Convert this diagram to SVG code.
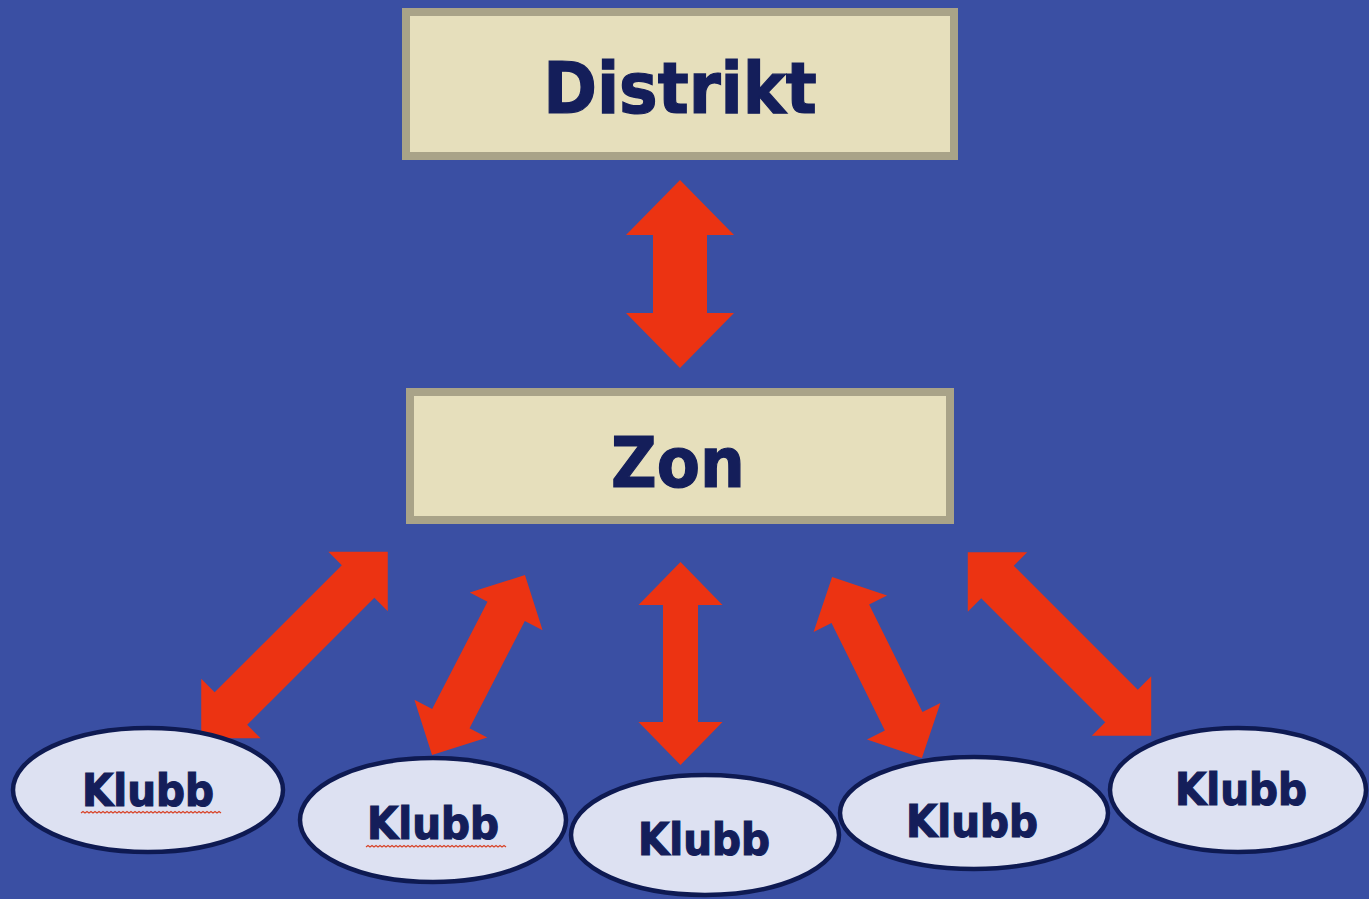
<svg xmlns="http://www.w3.org/2000/svg" width="1369" height="899" viewBox="0 0 1369 899">
<defs>
<style>
.box{fill:#E6DFBC;stroke:#A9A388;stroke-width:8}
.ell{fill:#DDE1F2;stroke:#0E1A52;stroke-width:4.5}
.arr{fill:#EC3312}
.t{font-family:"DejaVu Sans Condensed","DejaVu Sans",sans-serif;font-weight:bold;fill:#141E5A;stroke:#141E5A;stroke-width:1.2;text-anchor:middle}
.sq{fill:none;stroke:#D8452A;stroke-width:1.2}
</style>
</defs>
<rect width="1369" height="899" fill="#3A4FA3"/>
<g id="connectors">
<polygon class="arr" transform="translate(680,274)" points="0,-94 54,-39 27,-39 27,39 54,39 0,94 -54,39 -27,39 -27,-39 -54,-39"/>
<polygon class="arr" transform="translate(294.5,645) rotate(45)" points="0,-131.9 42,-89.9 23,-89.9 23,89.9 42,89.9 0,131.9 -42,89.9 -23,89.9 -23,-89.9 -42,-89.9"/>
<polygon class="arr" transform="translate(478.5,665) rotate(27.3)" points="0,-101.3 41,-60.3 21,-60.3 21,60.3 41,60.3 0,101.3 -41,60.3 -21,60.3 -21,-60.3 -41,-60.3"/>
<polygon class="arr" transform="translate(680.5,663.5)" points="0,-101.5 42,-58.5 17.5,-58.5 17.5,58.5 42,58.5 0,101.5 -42,58.5 -17.5,58.5 -17.5,-58.5 -42,-58.5"/>
<polygon class="arr" transform="translate(877,667.5) rotate(-26.4)" points="0,-101 41,-60 21,-60 21,60 41,60 0,101 -41,60 -21,60 -21,-60 -41,-60"/>
<polygon class="arr" transform="translate(1059.5,644) rotate(-45)" points="0,-129.7 42,-87.7 23,-87.7 23,87.7 42,87.7 0,129.7 -42,87.7 -23,87.7 -23,-87.7 -42,-87.7"/>
</g>
<g id="distrikt">
<rect class="box" x="406" y="12" width="548" height="144"/>
<text class="t" x="680" y="113" font-size="72" stroke-width="1.6">Distrikt</text>
</g>
<g id="zon">
<rect class="box" x="410" y="392" width="540" height="128"/>
<text class="t" x="678" y="487" font-size="70" stroke-width="1.6">Zon</text>
</g>
<g id="klubb1">
<ellipse class="ell" cx="148" cy="790" rx="135" ry="62"/>
<text class="t" x="148" y="806" font-size="45">Klubb</text>
<path class="sq" d="M81,813 l2,-1.5 2,1.5 2,-1.5 2,1.5 2,-1.5 2,1.5 2,-1.5 2,1.5 2,-1.5 2,1.5 2,-1.5 2,1.5 2,-1.5 2,1.5 2,-1.5 2,1.5 2,-1.5 2,1.5 2,-1.5 2,1.5 2,-1.5 2,1.5 2,-1.5 2,1.5 2,-1.5 2,1.5 2,-1.5 2,1.5 2,-1.5 2,1.5 2,-1.5 2,1.5 2,-1.5 2,1.5 2,-1.5 2,1.5 2,-1.5 2,1.5 2,-1.5 2,1.5 2,-1.5 2,1.5 2,-1.5 2,1.5 2,-1.5 2,1.5 2,-1.5 2,1.5 2,-1.5 2,1.5 2,-1.5 2,1.5 2,-1.5 2,1.5 2,-1.5 2,1.5 2,-1.5 2,1.5 2,-1.5 2,1.5 2,-1.5 2,1.5 2,-1.5 2,1.5 2,-1.5 2,1.5 2,-1.5 2,1.5 2,-1.5 2,1.5"/>
</g>
<g id="klubb2">
<ellipse class="ell" cx="433" cy="820" rx="133" ry="62"/>
<text class="t" x="433" y="839" font-size="45">Klubb</text>
<path class="sq" d="M366,847 l2,-1.5 2,1.5 2,-1.5 2,1.5 2,-1.5 2,1.5 2,-1.5 2,1.5 2,-1.5 2,1.5 2,-1.5 2,1.5 2,-1.5 2,1.5 2,-1.5 2,1.5 2,-1.5 2,1.5 2,-1.5 2,1.5 2,-1.5 2,1.5 2,-1.5 2,1.5 2,-1.5 2,1.5 2,-1.5 2,1.5 2,-1.5 2,1.5 2,-1.5 2,1.5 2,-1.5 2,1.5 2,-1.5 2,1.5 2,-1.5 2,1.5 2,-1.5 2,1.5 2,-1.5 2,1.5 2,-1.5 2,1.5 2,-1.5 2,1.5 2,-1.5 2,1.5 2,-1.5 2,1.5 2,-1.5 2,1.5 2,-1.5 2,1.5 2,-1.5 2,1.5 2,-1.5 2,1.5 2,-1.5 2,1.5 2,-1.5 2,1.5 2,-1.5 2,1.5 2,-1.5 2,1.5 2,-1.5 2,1.5 2,-1.5 2,1.5"/>
</g>
<g id="klubb3">
<ellipse class="ell" cx="705" cy="835" rx="134" ry="60"/>
<text class="t" x="704" y="855" font-size="45">Klubb</text>
</g>
<g id="klubb4">
<ellipse class="ell" cx="974" cy="813" rx="134" ry="56"/>
<text class="t" x="972" y="837" font-size="45">Klubb</text>
</g>
<g id="klubb5">
<ellipse class="ell" cx="1238" cy="790" rx="128" ry="62"/>
<text class="t" x="1241" y="805" font-size="45">Klubb</text>
</g>
</svg>
